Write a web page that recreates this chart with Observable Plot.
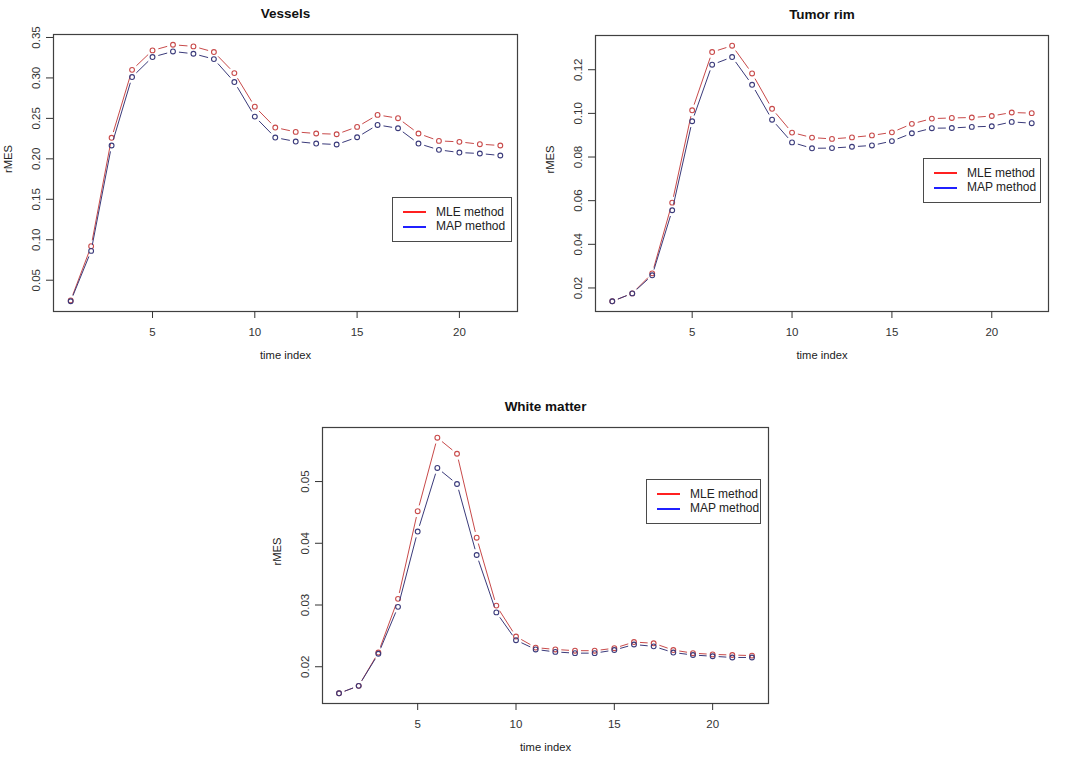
<!DOCTYPE html>
<html><head><meta charset="utf-8">
<script src="https://cdn.jsdelivr.net/npm/d3@7"></script>
<script src="https://cdn.jsdelivr.net/npm/@observablehq/plot@0.6"></script>
<style>
body{margin:0;background:#fff;font-family:"Liberation Sans",Arial,sans-serif;}
#root{position:relative;width:1072px;height:758px;overflow:hidden;background:#fff;}
.panel{position:absolute;}
.legend{position:absolute;border:1.5px solid #4a4a4a;background:#fff;box-sizing:border-box;font-size:12px;color:#222;}
.legend .ln{position:absolute;height:2px;}
.legend .tx{position:absolute;line-height:14px;white-space:nowrap;}
</style>
</head><body><div id="root"></div>
<script>
const timeIndex = [1,2,3,4,5,6,7,8,9,10,11,12,13,14,15,16,17,18,19,20,21,22];

const vesselsMLE = [0.025,0.092,0.226,0.310,0.334,0.341,0.339,0.332,0.306,0.2645,0.2387,0.2333,0.2313,0.2304,0.2395,0.2543,0.2502,0.2313,0.2222,0.2210,0.2181,0.2165];
const vesselsMAP = [0.024,0.0862,0.2165,0.3011,0.3258,0.3327,0.3299,0.3233,0.2949,0.2522,0.2263,0.2214,0.2189,0.2177,0.2267,0.2419,0.2378,0.2189,0.2111,0.2078,0.2066,0.2041];

const tumorMLE = [0.0139,0.0175,0.0267,0.0591,0.1014,0.1281,0.1310,0.1183,0.1021,0.0912,0.0889,0.0883,0.0890,0.0899,0.0913,0.0952,0.0976,0.0979,0.0981,0.0988,0.1004,0.1001];
const tumorMAP = [0.0139,0.0175,0.0258,0.0556,0.0964,0.1223,0.1258,0.1131,0.0971,0.0867,0.0840,0.0841,0.0847,0.0853,0.0873,0.0909,0.0932,0.0933,0.0938,0.0941,0.0961,0.0955];

const whiteMLE = [0.0157,0.0169,0.0223,0.0310,0.0452,0.0571,0.0545,0.0409,0.0299,0.0249,0.0231,0.0228,0.0226,0.0226,0.0230,0.0240,0.0238,0.0227,0.0222,0.0220,0.0219,0.0218];
const whiteMAP = [0.0157,0.0169,0.0221,0.0297,0.0419,0.0522,0.0496,0.0381,0.0288,0.0243,0.0228,0.0224,0.0222,0.0222,0.0227,0.0236,0.0233,0.0223,0.0219,0.0217,0.0215,0.0215];

const xTicks = [5,10,15,20];
const vesselsYTicks = [0.05,0.10,0.15,0.20,0.25,0.30,0.35];
const tumorYTicks = [0.02,0.04,0.06,0.08,0.10,0.12];
const whiteYTicks = [0.02,0.03,0.04,0.05];

const seriesNames = ["MLE method","MAP method"];
const lineColors = ["#c84a4a","#3a3a7a"];
const legendColors = ["#ff2020","#2020ff"];

function rRange(vals){ const [a,b]=d3.extent(vals); const e=(b-a)*0.04; return [a-e,b+e]; }

const root = document.getElementById("root");

function panel(cfg){
  const marks = [
    Plot.frame({stroke:"#404040", strokeWidth:1.2}),
    Plot.axisX({ticks: xTicks, tickSize:7, tickPadding:9, fontSize:11.5, label:null}),
    Plot.axisY({ticks: cfg.yTicks, tickFormat: d3.format(".2f"), tickRotate:-90, tickSize:7, tickPadding:7, fontSize:11.5, label:null})
  ];
  cfg.series.forEach((vals, s) => {
    const pts = vals.map((v,i)=>({t: timeIndex[i], v}));
    const segs = [];
    for (let i=0;i<vals.length-1;i++) segs.push({t1: timeIndex[i], v1: vals[i], t2: timeIndex[i+1], v2: vals[i+1]});
    marks.push(Plot.arrow(segs, {x1:"t1", y1:"v1", x2:"t2", y2:"v2", stroke: lineColors[s], strokeWidth:1, insetStart:6, insetEnd:6, headLength:0, strokeLinecap:"butt"}));
    marks.push(Plot.dot(pts, {x:"t", y:"v", r:2.4, stroke: lineColors[s], strokeWidth:1.1, fill:"none"}));
  });
  marks.push(Plot.text([cfg.title], {frameAnchor:"top", dy:-26.5, fontWeight:"bold", fontSize:13.5, fill:"#111"}));
  marks.push(Plot.text(["time index"], {frameAnchor:"bottom", dy:47.5, fontSize:11.2, fill:"#222"}));
  marks.push(Plot.text(["rMES"], {frameAnchor:"left", dx:-45, rotate:-90, fontSize:11.2, fill:"#222"}));

  const allVals = cfg.series.flat();
  const p = Plot.plot({
    width: cfg.width, height: cfg.height,
    marginLeft: cfg.ml, marginRight: cfg.mr, marginTop: cfg.mt, marginBottom: cfg.mb,
    x: {domain: rRange(timeIndex)},
    y: {domain: rRange(allVals)},
    style: {fontFamily:'"Liberation Sans", Arial, sans-serif', fontSize:"11px", color:"#333", background:"white", overflow:"visible"},
    marks
  });
  const div = document.createElement("div");
  div.className = "panel";
  div.style.left = cfg.left + "px";
  div.style.top = cfg.top + "px";
  div.appendChild(p);
  root.appendChild(div);

  const lg = document.createElement("div");
  lg.className = "legend";
  const L = cfg.legend;
  lg.style.left = L.x + "px"; lg.style.top = L.y + "px";
  lg.style.width = L.w + "px"; lg.style.height = L.h + "px";
  seriesNames.forEach((name, s) => {
    const yy = 14.2 + s*14.7;
    const ln = document.createElement("div");
    ln.className = "ln";
    ln.style.left = "10px"; ln.style.width = "23px"; ln.style.top = (yy-1) + "px";
    ln.style.background = legendColors[s];
    lg.appendChild(ln);
    const tx = document.createElement("div");
    tx.className = "tx";
    tx.style.left = "43px"; tx.style.top = (yy-7.5) + "px";
    tx.textContent = name;
    lg.appendChild(tx);
  });
  root.appendChild(lg);
}

panel({title:"Vessels", left:0, top:0, width:530, height:370, ml:53, mr:13, mt:34, mb:59,
  yTicks: vesselsYTicks, series:[vesselsMLE, vesselsMAP],
  legend:{x:392, y:197, w:120, h:45}});
panel({title:"Tumor rim", left:530, top:0, width:542, height:370, ml:65, mr:24, mt:35, mb:59,
  yTicks: tumorYTicks, series:[tumorMLE, tumorMAP],
  legend:{x:923, y:158, w:118, h:45}});
panel({title:"White matter", left:260, top:380, width:550, height:378, ml:62, mr:42, mt:47, mb:55,
  yTicks: whiteYTicks, series:[whiteMLE, whiteMAP],
  legend:{x:646, y:479, w:115, h:45}});
</script>
</body></html>
